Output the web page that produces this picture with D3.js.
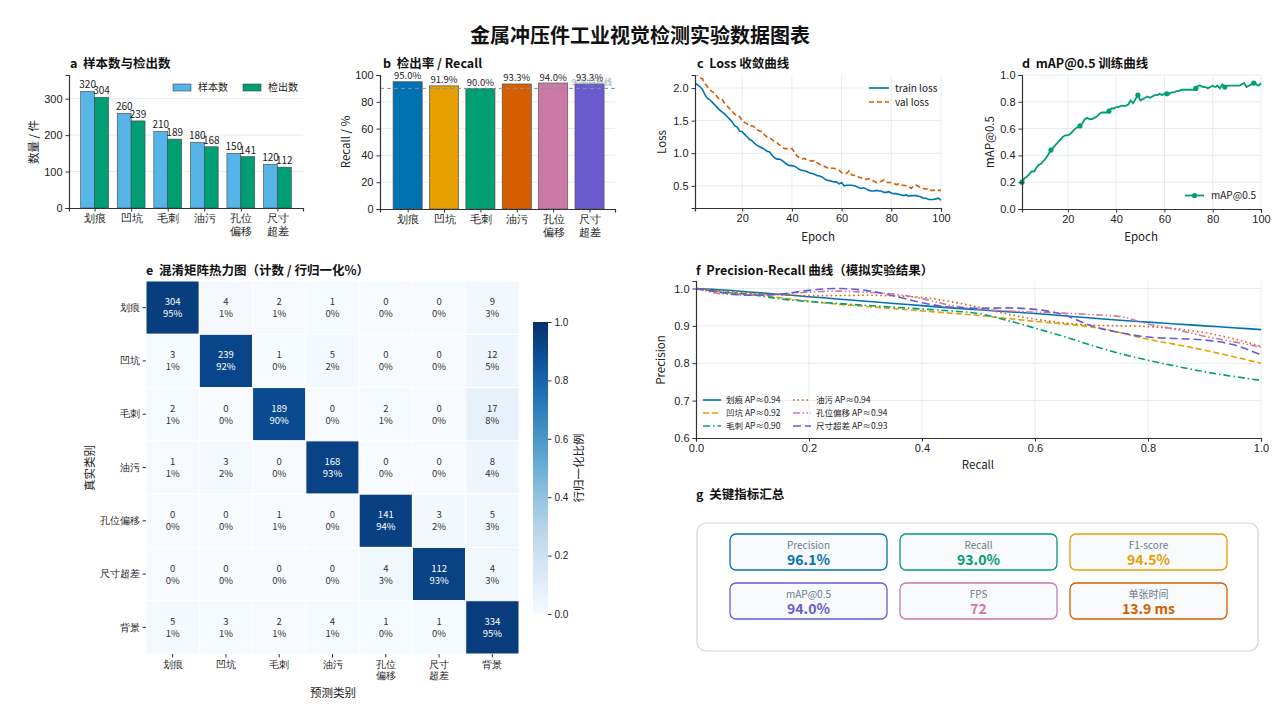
<!DOCTYPE html>
<html>
<head>
<meta charset="utf-8">
<script src="https://cdn.jsdelivr.net/npm/d3@7"></script>
<style>
body { margin: 0; background: #fff; }
svg { display: block; font-family: "Microsoft YaHei", "Noto Sans CJK SC", "Noto Sans", sans-serif; }
svg text { white-space: pre; }
</style>
</head>
<body>
<svg id="chart" width="1280" height="720"></svg>
<script>
// ---- data ----
var categories = ["划痕", "凹坑", "毛刺", "油污", "孔位偏移", "尺寸超差"];
var catLines = [["划痕"], ["凹坑"], ["毛刺"], ["油污"], ["孔位", "偏移"], ["尺寸", "超差"]];
var sampleCounts = [320, 260, 210, 180, 150, 120];
var detectCounts = [304, 239, 189, 168, 141, 112];
var recallPct = [95.0, 91.9, 90.0, 93.3, 94.0, 93.3];
var recallTarget = 90;

var trainLoss = [2.08,2.05,2.02,1.98,1.90,1.84,1.82,1.78,1.74,1.70,
	1.66,1.63,1.60,1.56,1.52,1.48,1.42,1.40,1.34,1.33,
	1.29,1.25,1.21,1.19,1.15,1.12,1.10,1.08,1.06,1.03,
	1.02,0.97,0.93,0.91,0.91,0.89,0.86,0.83,0.81,0.81,
	0.80,0.78,0.75,0.74,0.73,0.72,0.70,0.69,0.68,0.66,
	0.65,0.64,0.61,0.59,0.58,0.57,0.56,0.56,0.53,0.55,
	0.50,0.51,0.51,0.51,0.50,0.49,0.47,0.46,0.47,0.45,
	0.43,0.42,0.42,0.43,0.42,0.42,0.40,0.40,0.41,0.39,
	0.38,0.38,0.37,0.36,0.35,0.36,0.34,0.35,0.35,0.35,
	0.34,0.33,0.31,0.31,0.29,0.29,0.29,0.30,0.31,0.28];
var valLoss = [2.25,2.20,2.16,2.14,2.07,2.02,1.98,1.94,1.92,1.86,
	1.82,1.82,1.76,1.72,1.68,1.64,1.60,1.57,1.56,1.50,
	1.47,1.45,1.42,1.42,1.40,1.36,1.34,1.33,1.28,1.25,
	1.24,1.21,1.18,1.16,1.13,1.10,1.07,1.07,1.07,1.07,
	1.02,0.96,0.93,0.91,0.92,0.90,0.89,0.88,0.89,0.86,
	0.83,0.82,0.80,0.78,0.78,0.77,0.77,0.75,0.74,0.70,
	0.69,0.69,0.73,0.67,0.66,0.66,0.63,0.62,0.60,0.60,
	0.61,0.59,0.57,0.55,0.56,0.57,0.59,0.55,0.55,0.55,
	0.54,0.52,0.53,0.51,0.51,0.50,0.49,0.46,0.50,0.51,
	0.49,0.47,0.46,0.45,0.46,0.43,0.43,0.44,0.43,0.43];
var mapCurve = [0.20,0.23,0.24,0.26,0.28,0.28,0.31,0.33,0.34,0.36,
	0.38,0.41,0.44,0.46,0.48,0.50,0.52,0.54,0.55,0.55,
	0.56,0.58,0.60,0.61,0.62,0.64,0.67,0.68,0.67,0.67,
	0.68,0.69,0.71,0.72,0.72,0.72,0.73,0.75,0.75,0.76,
	0.76,0.77,0.77,0.77,0.78,0.81,0.79,0.82,0.85,0.81,
	0.82,0.83,0.84,0.83,0.84,0.85,0.85,0.86,0.85,0.86,
	0.86,0.86,0.87,0.87,0.88,0.88,0.89,0.89,0.89,0.89,
	0.89,0.89,0.90,0.92,0.92,0.91,0.91,0.90,0.91,0.92,
	0.91,0.92,0.90,0.93,0.91,0.92,0.92,0.92,0.92,0.92,
	0.92,0.93,0.94,0.91,0.92,0.93,0.94,0.93,0.92,0.94];

var cmLabels = ["划痕", "凹坑", "毛刺", "油污", "孔位偏移", "尺寸超差", "背景"];
var cmColLines = [["划痕"], ["凹坑"], ["毛刺"], ["油污"], ["孔位", "偏移"], ["尺寸", "超差"], ["背景"]];
var cmCounts = [
	[304, 4, 2, 1, 0, 0, 9],
	[3, 239, 1, 5, 0, 0, 12],
	[2, 0, 189, 0, 2, 0, 17],
	[1, 3, 0, 168, 0, 0, 8],
	[0, 0, 1, 0, 141, 3, 5],
	[0, 0, 0, 0, 4, 112, 4],
	[5, 3, 2, 4, 1, 1, 334]
];

var prRecall = [0,0.05,0.1,0.15,0.2,0.25,0.3,0.35,0.4,0.45,0.5,0.55,0.6,0.65,0.7,0.75,0.8,0.85,0.9,0.95,1.0];
var prScratch = [1.0,0.996,0.99,0.984,0.978,0.972,0.966,0.96,0.954,0.948,0.943,0.938,0.933,0.927,0.921,0.915,0.91,0.905,0.9,0.895,0.89];
var prDent = [1.0,0.99,0.985,0.975,0.966,0.958,0.952,0.946,0.94,0.934,0.928,0.92,0.912,0.905,0.897,0.882,0.864,0.85,0.835,0.818,0.80];
var prBurr = [1.0,0.99,0.983,0.972,0.965,0.96,0.955,0.95,0.945,0.94,0.933,0.915,0.894,0.872,0.848,0.826,0.808,0.792,0.777,0.765,0.754];
var prOil = [1.0,0.993,0.987,0.983,0.981,0.981,0.982,0.98,0.976,0.965,0.95,0.932,0.918,0.908,0.902,0.9,0.898,0.892,0.882,0.866,0.845];
var prHole = [1.0,0.985,0.982,0.985,0.99,0.993,0.99,0.985,0.973,0.955,0.945,0.94,0.937,0.934,0.93,0.925,0.905,0.89,0.872,0.858,0.843];
var prSize = [1.0,0.988,0.982,0.985,0.995,1.0,0.995,0.98,0.962,0.95,0.947,0.948,0.944,0.93,0.9,0.882,0.87,0.866,0.862,0.85,0.822];
var prNames = ["划痕 AP≈0.94", "凹坑 AP≈0.92", "毛刺 AP≈0.90", "油污 AP≈0.94", "孔位偏移 AP≈0.94", "尺寸超差 AP≈0.93"];

var metricNames = ["Precision", "Recall", "F1-score", "mAP@0.5", "FPS", "单张时间"];
var metricValues = ["96.1%", "93.0%", "94.5%", "94.0%", "72", "13.9 ms"];

// ---- shared styling ----
var palette = ["#0072B2", "#E69F00", "#009E73", "#D55E00", "#CC79A7", "#6A5ACD"];
var gridColor = "#e6ebf1";
var svg = d3.select("#chart");

function styleAxis(g, size) {
	g.select(".domain").attr("stroke", "#333").attr("stroke-width", 1.2);
	g.selectAll(".tick line").attr("stroke", "#333");
	g.selectAll(".tick text").attr("fill", "#222").attr("font-size", size || 11);
}

function panelTitle(x, y, txt) {
	svg.append("text").attr("x", x).attr("y", y)
		.attr("font-size", 12.5).attr("font-weight", "bold").attr("fill", "#111")
		.text(txt);
}

function yLabel(x, y, txt) {
	svg.append("text").attr("transform", "translate(" + x + "," + y + ") rotate(-90)")
		.attr("text-anchor", "middle").attr("font-size", 11.5).attr("fill", "#222").text(txt);
}

function xLabel(x, y, txt) {
	svg.append("text").attr("x", x).attr("y", y)
		.attr("text-anchor", "middle").attr("font-size", 11.5).attr("fill", "#222").text(txt);
}

function multiLineTicks(g, lines) {
	g.selectAll(".tick text").each(function (d, i) {
		var t = d3.select(this).text(null);
		lines[i].forEach(function (s, k) {
			t.append("tspan").attr("x", 0).attr("dy", k === 0 ? "0.71em" : "1.15em").text(s);
		});
	});
}

// main title
svg.append("text").attr("x", 640).attr("y", 43)
	.attr("text-anchor", "middle").attr("font-size", 20).attr("font-weight", "bold")
	.attr("fill", "#111").text("金属冲压件工业视觉检测实验数据图表");

// ================= a: counts =================
var aX = d3.scaleLinear().domain([-0.7, 5.7]).range([69, 303]);
var aY = d3.scaleLinear().domain([0, 365]).range([208, 75]);
var aBarW = 0.38;

svg.append("g").selectAll("line").data([100, 200, 300]).enter().append("line")
	.attr("x1", 69).attr("x2", 303)
	.attr("y1", function (d) { return aY(d); }).attr("y2", function (d) { return aY(d); })
	.attr("stroke", gridColor);

svg.append("g").selectAll("rect").data(sampleCounts).enter().append("rect")
	.attr("x", function (d, i) { return aX(i - aBarW); })
	.attr("width", aX(aBarW) - aX(0))
	.attr("y", function (d) { return aY(d); })
	.attr("height", function (d) { return aY(0) - aY(d); })
	.attr("fill", "#56B4E9").attr("stroke", "#444").attr("stroke-width", 0.6);
svg.append("g").selectAll("rect").data(detectCounts).enter().append("rect")
	.attr("x", function (d, i) { return aX(i); })
	.attr("width", aX(aBarW) - aX(0))
	.attr("y", function (d) { return aY(d); })
	.attr("height", function (d) { return aY(0) - aY(d); })
	.attr("fill", "#009E73").attr("stroke", "#444").attr("stroke-width", 0.6);

svg.append("g").selectAll("text").data(sampleCounts).enter().append("text")
	.attr("x", function (d, i) { return aX(i - aBarW / 2); })
	.attr("y", function (d) { return aY(d) - 3; })
	.attr("text-anchor", "middle").attr("font-size", 10).attr("fill", "#222")
	.text(function (d) { return d; });
svg.append("g").selectAll("text").data(detectCounts).enter().append("text")
	.attr("x", function (d, i) { return aX(i + aBarW / 2); })
	.attr("y", function (d) { return aY(d) - 3; })
	.attr("text-anchor", "middle").attr("font-size", 10).attr("fill", "#222")
	.text(function (d) { return d; });

svg.append("g").attr("transform", "translate(0,208)")
	.call(d3.axisBottom(aX).tickValues(d3.range(6)).tickSizeOuter(0).tickSize(3.5))
	.call(styleAxis)
	.call(function (g) { multiLineTicks(g, catLines); });
svg.append("g").attr("transform", "translate(69,0)")
	.call(d3.axisLeft(aY).tickValues([0, 100, 200, 300]).tickSizeOuter(0).tickSize(3.5))
	.call(styleAxis);

// legend a
[["样本数", "#56B4E9", 173], ["检出数", "#009E73", 243]].forEach(function (l) {
	svg.append("rect").attr("x", l[2]).attr("y", 84).attr("width", 18).attr("height", 7)
		.attr("fill", l[1]).attr("stroke", "#444").attr("stroke-width", 0.6);
	svg.append("text").attr("x", l[2] + 25).attr("y", 91).attr("font-size", 10).attr("fill", "#222").text(l[0]);
});
panelTitle(70, 68, "a  样本数与检出数");
yLabel(38, 142, "数量 / 件");

// ================= b: recall =================
var bX = d3.scaleLinear().domain([-0.76, 5.7]).range([380, 615]);
var bY = d3.scaleLinear().domain([0, 100]).range([209, 75]);

svg.append("g").selectAll("line").data([20, 40, 60, 80]).enter().append("line")
	.attr("x1", 380).attr("x2", 615)
	.attr("y1", function (d) { return bY(d); }).attr("y2", function (d) { return bY(d); })
	.attr("stroke", gridColor);

svg.append("g").selectAll("rect").data(recallPct).enter().append("rect")
	.attr("x", function (d, i) { return bX(i - 0.4); })
	.attr("width", bX(0.8) - bX(0))
	.attr("y", function (d) { return bY(d); })
	.attr("height", function (d) { return bY(0) - bY(d); })
	.attr("fill", function (d, i) { return palette[i]; })
	.attr("stroke", "#555").attr("stroke-width", 0.7);

svg.append("g").selectAll("text").data(recallPct).enter().append("text")
	.attr("x", function (d, i) { return bX(i); })
	.attr("y", function (d) { return bY(d) - 2.5; })
	.attr("text-anchor", "middle").attr("font-size", 9.5).attr("fill", "#222")
	.text(function (d) { return d.toFixed(1) + "%"; });

svg.append("line").attr("x1", 380).attr("x2", 615)
	.attr("y1", bY(recallTarget)).attr("y2", bY(recallTarget))
	.attr("stroke", "#7b95a8").attr("stroke-width", 1).attr("stroke-dasharray", "4,3");
svg.append("text").attr("x", 612).attr("y", bY(recallTarget) - 3)
	.attr("text-anchor", "end").attr("font-size", 8).attr("fill", "#7b95a8").attr("opacity", 0.85)
	.text("90%目标线");

svg.append("g").attr("transform", "translate(0,209)")
	.call(d3.axisBottom(bX).tickValues(d3.range(6)).tickSizeOuter(0).tickSize(3.5))
	.call(styleAxis)
	.call(function (g) { multiLineTicks(g, catLines); });
svg.append("g").attr("transform", "translate(380,0)")
	.call(d3.axisLeft(bY).tickValues([0, 20, 40, 60, 80, 100]).tickSizeOuter(0).tickSize(3.5))
	.call(styleAxis);
panelTitle(383, 68, "b  检出率 / Recall");
yLabel(350, 142, "Recall / %");

// ================= c: loss =================
var epochs = d3.range(1, 101);
var cX = d3.scaleLinear().domain([1, 100]).range([695, 941]);
var cY = d3.scaleLinear().domain([0.16, 2.2]).range([208, 75]);

svg.append("defs").append("clipPath").attr("id", "clipC")
	.append("rect").attr("x", 695).attr("y", 75).attr("width", 246).attr("height", 133);

svg.append("g").selectAll("line").data([20, 40, 60, 80, 100]).enter().append("line")
	.attr("x1", function (d) { return cX(d); }).attr("x2", function (d) { return cX(d); })
	.attr("y1", 75).attr("y2", 208).attr("stroke", gridColor);
svg.append("g").selectAll("line").data([0.5, 1.0, 1.5, 2.0]).enter().append("line")
	.attr("x1", 695).attr("x2", 941)
	.attr("y1", function (d) { return cY(d); }).attr("y2", function (d) { return cY(d); })
	.attr("stroke", gridColor);

var lossLine = d3.line()
	.x(function (d, i) { return cX(epochs[i]); })
	.y(function (d) { return cY(d); });

svg.append("path").datum(trainLoss).attr("d", lossLine).attr("clip-path", "url(#clipC)")
	.attr("fill", "none").attr("stroke", "#0072B2").attr("stroke-width", 1.6);
svg.append("path").datum(valLoss).attr("d", lossLine).attr("clip-path", "url(#clipC)")
	.attr("fill", "none").attr("stroke", "#D55E00").attr("stroke-width", 1.6)
	.attr("stroke-dasharray", "5,3");

svg.append("g").attr("transform", "translate(0,208)")
	.call(d3.axisBottom(cX).tickValues([20, 40, 60, 80, 100]).tickSizeOuter(0).tickSize(3.5))
	.call(styleAxis);
svg.append("g").attr("transform", "translate(695,0)")
	.call(d3.axisLeft(cY).tickValues([0.5, 1.0, 1.5, 2.0]).tickFormat(d3.format(".1f")).tickSizeOuter(0).tickSize(3.5))
	.call(styleAxis);

svg.append("line").attr("x1", 869).attr("x2", 889).attr("y1", 88).attr("y2", 88)
	.attr("stroke", "#0072B2").attr("stroke-width", 1.6);
svg.append("text").attr("x", 895).attr("y", 91.5).attr("font-size", 10).attr("fill", "#222").text("train loss");
svg.append("line").attr("x1", 869).attr("x2", 889).attr("y1", 102).attr("y2", 102)
	.attr("stroke", "#D55E00").attr("stroke-width", 1.6).attr("stroke-dasharray", "5,3");
svg.append("text").attr("x", 895).attr("y", 105.5).attr("font-size", 10).attr("fill", "#222").text("val loss");

panelTitle(697, 68, "c  Loss 收敛曲线");
yLabel(666, 142, "Loss");
xLabel(818, 241, "Epoch");

// ================= d: mAP =================
var dX = d3.scaleLinear().domain([1, 100]).range([1022, 1261]);
var dY = d3.scaleLinear().domain([0, 1]).range([209, 75]);

svg.append("g").selectAll("line").data([20, 40, 60, 80, 100]).enter().append("line")
	.attr("x1", function (d) { return dX(d); }).attr("x2", function (d) { return dX(d); })
	.attr("y1", 75).attr("y2", 209).attr("stroke", gridColor);
svg.append("g").selectAll("line").data([0.2, 0.4, 0.6, 0.8, 1.0]).enter().append("line")
	.attr("x1", 1022).attr("x2", 1261)
	.attr("y1", function (d) { return dY(d); }).attr("y2", function (d) { return dY(d); })
	.attr("stroke", gridColor);

svg.append("path").datum(mapCurve)
	.attr("d", d3.line().x(function (d, i) { return dX(epochs[i]); }).y(function (d) { return dY(d); }))
	.attr("fill", "none").attr("stroke", "#009E73").attr("stroke-width", 1.8);
svg.append("g").selectAll("circle")
	.data(mapCurve.filter(function (d, i) { return i % 12 === 0; })).enter().append("circle")
	.attr("cx", function (d, i) { return dX(epochs[i * 12]); })
	.attr("cy", function (d) { return dY(d); })
	.attr("r", 2.6).attr("fill", "#009E73");

svg.append("g").attr("transform", "translate(0,209)")
	.call(d3.axisBottom(dX).tickValues([20, 40, 60, 80, 100]).tickSizeOuter(0).tickSize(3.5))
	.call(styleAxis);
svg.append("g").attr("transform", "translate(1022,0)")
	.call(d3.axisLeft(dY).tickValues([0, 0.2, 0.4, 0.6, 0.8, 1.0]).tickFormat(d3.format(".1f")).tickSizeOuter(0).tickSize(3.5))
	.call(styleAxis);

svg.append("line").attr("x1", 1185).attr("x2", 1204).attr("y1", 195.5).attr("y2", 195.5)
	.attr("stroke", "#009E73").attr("stroke-width", 1.8);
svg.append("circle").attr("cx", 1194.5).attr("cy", 195.5).attr("r", 2.6).attr("fill", "#009E73");
svg.append("text").attr("x", 1211).attr("y", 199).attr("font-size", 10).attr("fill", "#222").text("mAP@0.5");

panelTitle(1022, 68, "d  mAP@0.5 训练曲线");
yLabel(994, 142, "mAP@0.5");
xLabel(1141, 241, "Epoch");

// ================= e: confusion matrix =================
var rowSums = cmCounts.map(function (r) { return d3.sum(r); });
var eX = d3.scaleBand().domain(d3.range(7)).range([146, 519]);
var eY = d3.scaleBand().domain(d3.range(7)).range([281, 654]);
var eColor = d3.scaleSequential(d3.interpolateBlues).domain([0, 1]);

var cells = [];
cmCounts.forEach(function (row, r) {
	row.forEach(function (v, c) { cells.push({ r: r, c: c, v: v, p: v / rowSums[r] }); });
});

var cellG = svg.append("g").selectAll("g").data(cells).enter().append("g");
cellG.append("rect")
	.attr("x", function (d) { return eX(d.c); }).attr("y", function (d) { return eY(d.r); })
	.attr("width", eX.bandwidth()).attr("height", eY.bandwidth())
	.attr("fill", function (d) { return eColor(d.p); })
	.attr("stroke", "#fff").attr("stroke-width", 1);
cellG.append("text")
	.attr("x", function (d) { return eX(d.c) + eX.bandwidth() / 2; })
	.attr("y", function (d) { return eY(d.r) + eY.bandwidth() / 2 - 2.5; })
	.attr("text-anchor", "middle").attr("font-size", 9.5)
	.attr("fill", function (d) { return d.p > 0.5 ? "#fff" : "#333"; })
	.text(function (d) { return d.v; });
cellG.append("text")
	.attr("x", function (d) { return eX(d.c) + eX.bandwidth() / 2; })
	.attr("y", function (d) { return eY(d.r) + eY.bandwidth() / 2 + 9.5; })
	.attr("text-anchor", "middle").attr("font-size", 9.5)
	.attr("fill", function (d) { return d.p > 0.5 ? "#fff" : "#333"; })
	.text(function (d) { return Math.round(d.p * 100) + "%"; });

svg.append("g").attr("transform", "translate(0,654)")
	.call(d3.axisBottom(eX).tickSize(3.5))
	.call(function (g) { g.select(".domain").remove(); })
	.call(styleAxis, 10)
	.call(function (g) { multiLineTicks(g, cmColLines); });
svg.append("g").attr("transform", "translate(146,0)")
	.call(d3.axisLeft(eY).tickSize(3.5).tickFormat(function (d) { return cmLabels[d]; }))
	.call(function (g) { g.select(".domain").remove(); })
	.call(styleAxis, 10);

// colorbar
var cbY = d3.scaleLinear().domain([0, 1]).range([614, 322]);
var grad = svg.select("defs").append("linearGradient").attr("id", "cbGrad")
	.attr("x1", 0).attr("y1", 1).attr("x2", 0).attr("y2", 0);
d3.range(0, 1.01, 0.1).forEach(function (t) {
	grad.append("stop").attr("offset", t).attr("stop-color", eColor(t));
});
svg.append("rect").attr("x", 533).attr("y", 322).attr("width", 15).attr("height", 292)
	.attr("fill", "url(#cbGrad)");
svg.append("g").attr("transform", "translate(548,0)")
	.call(d3.axisRight(cbY).tickValues([0, 0.2, 0.4, 0.6, 0.8, 1.0]).tickFormat(d3.format(".1f")).tickSize(3.5))
	.call(function (g) { g.select(".domain").remove(); })
	.call(styleAxis, 10);
yLabel(583, 468, "行归一化比例");

panelTitle(146, 275, "e  混淆矩阵热力图（计数 / 行归一化%）");
yLabel(94, 468, "真实类别");
xLabel(333, 697, "预测类别");

// ================= f: PR curves =================
var fX = d3.scaleLinear().domain([0, 1]).range([696, 1261]);
var fY = d3.scaleLinear().domain([0.6, 1.02]).range([438, 281]);
var prSeries = [prScratch, prDent, prBurr, prOil, prHole, prSize];
var prDash = ["none", "6,3", "7,3,1.5,3", "1.5,3", "7,2.5,1.5,2.5,1.5,2.5", "8,4"];

svg.append("g").selectAll("line").data([0.2, 0.4, 0.6, 0.8, 1.0]).enter().append("line")
	.attr("x1", function (d) { return fX(d); }).attr("x2", function (d) { return fX(d); })
	.attr("y1", 281).attr("y2", 438).attr("stroke", gridColor);
svg.append("g").selectAll("line").data([0.7, 0.8, 0.9, 1.0]).enter().append("line")
	.attr("x1", 696).attr("x2", 1261)
	.attr("y1", function (d) { return fY(d); }).attr("y2", function (d) { return fY(d); })
	.attr("stroke", gridColor);

var prLine = d3.line().curve(d3.curveMonotoneX)
	.x(function (d, i) { return fX(prRecall[i]); })
	.y(function (d) { return fY(d); });
svg.append("g").selectAll("path").data(prSeries).enter().append("path")
	.attr("d", prLine).attr("fill", "none")
	.attr("stroke", function (d, i) { return palette[i]; })
	.attr("stroke-width", 1.6)
	.attr("stroke-dasharray", function (d, i) { return prDash[i]; });

svg.append("g").attr("transform", "translate(0,438)")
	.call(d3.axisBottom(fX).tickValues([0, 0.2, 0.4, 0.6, 0.8, 1.0]).tickFormat(d3.format(".1f")).tickSizeOuter(0).tickSize(3.5))
	.call(styleAxis);
svg.append("g").attr("transform", "translate(696,0)")
	.call(d3.axisLeft(fY).tickValues([0.6, 0.7, 0.8, 0.9, 1.0]).tickFormat(d3.format(".1f")).tickSizeOuter(0).tickSize(3.5))
	.call(styleAxis);

prNames.forEach(function (name, i) {
	var lx = i < 3 ? 703 : 793;
	var ly = 400 + (i % 3) * 13;
	svg.append("line").attr("x1", lx).attr("x2", lx + 18).attr("y1", ly).attr("y2", ly)
		.attr("stroke", palette[i]).attr("stroke-width", 1.6).attr("stroke-dasharray", prDash[i]);
	svg.append("text").attr("x", lx + 23).attr("y", ly + 3).attr("font-size", 8.5).attr("fill", "#222").text(name);
});

panelTitle(696, 275, "f  Precision-Recall 曲线（模拟实验结果）");
yLabel(665, 360, "Precision");
xLabel(978, 469, "Recall");

// ================= g: key metrics =================
panelTitle(696, 499, "g  关键指标汇总");
svg.append("rect").attr("x", 697).attr("y", 523).attr("width", 561).attr("height", 128)
	.attr("rx", 9).attr("fill", "#fff").attr("stroke", "#c9d4de").attr("stroke-width", 1.2);

var metricColors = ["#0072B2", "#009E73", "#E69F00", "#6A5ACD", "#CC79A7", "#D55E00"];
var cardX = d3.scalePoint().domain([0, 1, 2]).range([730, 1070]);
var cardY = d3.scalePoint().domain([0, 1]).range([534, 583]);
var cards = svg.append("g").selectAll("g").data(metricNames).enter().append("g")
	.attr("transform", function (d, i) { return "translate(" + cardX(i % 3) + "," + cardY(Math.floor(i / 3)) + ")"; });
cards.append("rect").attr("width", 157).attr("height", 36).attr("rx", 6)
	.attr("fill", "#f7f9fb")
	.attr("stroke", function (d, i) { return metricColors[i]; }).attr("stroke-width", 1.3);
cards.append("text").attr("x", 78.5).attr("y", 14.5).attr("text-anchor", "middle")
	.attr("font-size", 10).attr("fill", "#6b7c8c").text(function (d) { return d; });
cards.append("text").attr("x", 78.5).attr("y", 30.5).attr("text-anchor", "middle")
	.attr("font-size", 14).attr("font-weight", "bold")
	.attr("fill", function (d, i) { return metricColors[i]; })
	.text(function (d, i) { return metricValues[i]; });
</script>
</body>
</html>
